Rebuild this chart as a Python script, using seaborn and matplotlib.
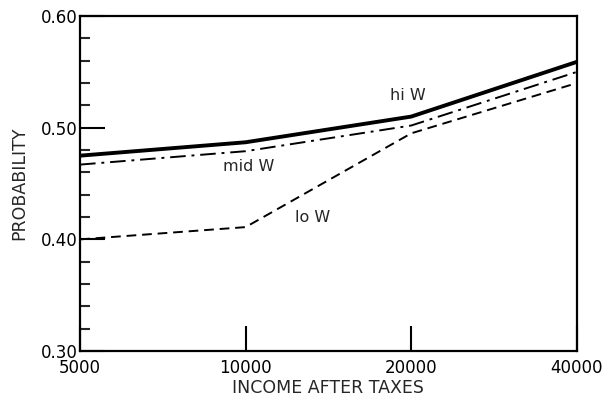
import pandas as pd
import matplotlib.pyplot as plt
import seaborn as sns
from matplotlib.ticker import FixedLocator, NullLocator

income = [5000, 10000, 20000, 40000]
hi_w = [0.475, 0.487, 0.510, 0.559]
mid_w = [0.467, 0.479, 0.502, 0.550]
lo_w = [0.400, 0.411, 0.495, 0.540]
y_major = [0.30, 0.40, 0.50, 0.60]
y_minor = [0.32, 0.34, 0.36, 0.38, 0.42, 0.44, 0.46, 0.48, 0.52, 0.54, 0.56, 0.58]

df = pd.DataFrame({
    'income': income * 3,
    'prob': hi_w + mid_w + lo_w,
    'group': ['hi W'] * 4 + ['mid W'] * 4 + ['lo W'] * 4,
})

sns.set_theme(style="ticks")
plt.rcParams['font.family'] = ['DejaVu Sans']

fig = plt.figure(figsize=(6.11, 4.03), dpi=100)
ax = fig.add_axes([0.131, 0.129, 0.813, 0.831])

styles = {
    'hi W': dict(lw=2.8, ls='-'),
    'mid W': dict(lw=1.4, ls=(0, (8, 3, 1.5, 3))),
    'lo W': dict(lw=1.4, ls=(0, (5, 3))),
}
for name, st in styles.items():
    sns.lineplot(ax=ax, data=df[df['group'] == name], x='income', y='prob',
                 color='black', linewidth=st['lw'], linestyle=st['ls'],
                 legend=False)

ax.set_xscale('log', base=2)
ax.set_xlim(5000, 40000)
ax.set_ylim(0.30, 0.60)
ax.xaxis.set_major_locator(FixedLocator(income))
ax.xaxis.set_minor_locator(NullLocator())
ax.set_xticklabels([str(v) for v in income])
ax.yaxis.set_major_locator(FixedLocator(y_major))
ax.yaxis.set_minor_locator(FixedLocator(y_minor))
ax.set_yticklabels(['%.2f' % v for v in y_major])

ax.tick_params(axis='both', which='major', direction='in', length=18, width=1.5,
               labelsize=12, colors='black')
ax.tick_params(axis='x', which='major', pad=6)
ax.tick_params(axis='y', which='major', pad=2)
ax.tick_params(axis='y', which='minor', direction='in', length=7, width=1.5)
for sp in ax.spines.values():
    sp.set_linewidth(1.6)
    sp.set_color('black')

ax.set_xlabel('INCOME AFTER TAXES', fontsize=12.5, labelpad=1)
ax.set_ylabel('PROBABILITY', fontsize=12.5, labelpad=9)

ax.text(18300, 0.529, 'hi W', fontsize=11.5, va='center')
ax.text(9100, 0.465, 'mid W', fontsize=11.5, va='center')
ax.text(12300, 0.420, 'lo W', fontsize=11.5, va='center')

fig.savefig('out.png', dpi=100)
